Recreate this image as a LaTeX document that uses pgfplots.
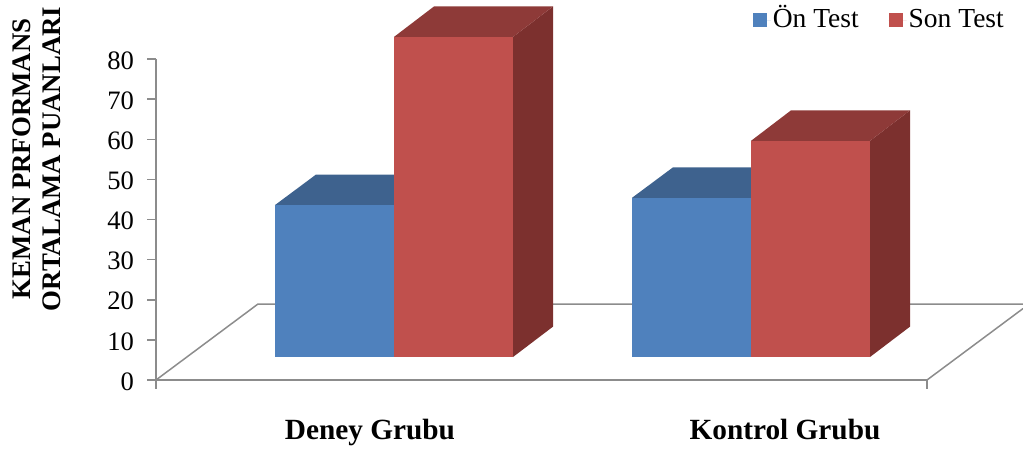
\documentclass[border=0pt]{standalone}
\usepackage{fontspec}
\setmainfont{Liberation Serif}
\usepackage{pgfplots}
\pgfplotsset{compat=1.18}

\definecolor{bluefront}{RGB}{79,129,189}
\definecolor{bluetop}{RGB}{62,98,142}
\definecolor{redfront}{RGB}{192,80,77}
\definecolor{redtop}{RGB}{142,58,56}
\definecolor{redside}{RGB}{124,48,46}
\definecolor{axisgray}{RGB}{140,140,140}

\begin{document}
\begin{tikzpicture}
  % x is in pixels from the y axis, y in chart units; page = 1023x450
  \path[use as bounding box] (-156pt,-70pt) rectangle (867pt,380pt);
  \begin{axis}[
      at={(0pt,0pt)}, anchor=south west,
      scale only axis, width=771pt, height=321pt,
      xmin=0, xmax=771, ymin=0, ymax=80,
      clip=false,
      axis lines*=left,
      axis line style={axisgray, line width=2pt, -},
      every tick/.style={axisgray, line width=1.5pt},
      tick align=outside,
      major tick length=8.5pt,
      ytick={0,10,...,80},
      xtick={0,771}, xticklabels={,},
      extra x ticks={214,629},
      extra x tick labels={Deney Grubu,Kontrol Grubu},
      extra x tick style={
        major tick length=0pt,
        xticklabel style={font=\fontsize{29.3}{32}\selectfont\bfseries, yshift=-59pt, anchor=base, text height=0pt}
      },
      /pgf/number format/assume math mode=true,
      yticklabel style={font=\fontsize{26.6}{30}\selectfont, xshift=-10pt, yshift=-1.5pt},
      ylabel={KEMAN PRFORMANS\\ORTALAMA PUANLARI},
      ylabel style={at={(axis cs:-119,55.1)}, anchor=center, align=center,
        font=\fontsize{26.8}{30}\selectfont\bfseries},
      legend columns=2,
      legend style={at={(axis cs:850,93.5)}, anchor=north east, draw=none, fill=none,
        font=\fontsize{27.5}{30}\selectfont, inner sep=0pt,
        nodes={text height=20pt, text depth=6pt},
        /tikz/every even column/.append style={column sep=28pt}},
      legend image code/.code={\fill[#1] (0pt,-7pt) rectangle (14pt,7pt);\path (0pt,0pt) -- (18pt,0pt);},
      every axis plot/.append style={draw=none, no markers},
    ]
    % floor
    \addplot[draw=axisgray, line width=1.5pt, forget plot] coordinates {(0,0) (102,18.94) (867,18.94)};
    \addplot[draw=axisgray, line width=1.5pt, forget plot] coordinates {(771,0) (867,17.8)};

    % Deney Grubu, on test
    \addplot[fill=bluetop, forget plot] coordinates {(119,43.6) (160,51.2) (279,51.2) (238,43.6)} --cycle;
    \addplot[fill=bluefront] coordinates {(119,5.73) (119,43.6) (238,43.6) (238,5.73)} --cycle;
    \addlegendentry{Ön Test}
    % Deney Grubu, son test
    \addplot[fill=redside, forget plot] coordinates {(357,5.73) (357,85.5) (397,93.1) (397,13.3)} --cycle;
    \addplot[fill=redtop, forget plot] coordinates {(238,85.5) (278,93.1) (397,93.1) (357,85.5)} --cycle;
    \addplot[fill=redfront] coordinates {(238,5.73) (238,85.5) (357,85.5) (357,5.73)} --cycle;
    \addlegendentry{Son Test}

    % Kontrol Grubu, on test
    \addplot[fill=bluetop, forget plot] coordinates {(476,45.4) (517,53) (636,53) (595,45.4)} --cycle;
    \addplot[fill=bluefront, forget plot] coordinates {(476,5.73) (476,45.4) (595,45.4) (595,5.73)} --cycle;
    % Kontrol Grubu, son test
    \addplot[fill=redside, forget plot] coordinates {(714,5.73) (714,59.6) (754,67.2) (754,13.3)} --cycle;
    \addplot[fill=redtop, forget plot] coordinates {(595,59.6) (635,67.2) (754,67.2) (714,59.6)} --cycle;
    \addplot[fill=redfront, forget plot] coordinates {(595,5.73) (595,59.6) (714,59.6) (714,5.73)} --cycle;
  \end{axis}
\end{tikzpicture}
\end{document}
